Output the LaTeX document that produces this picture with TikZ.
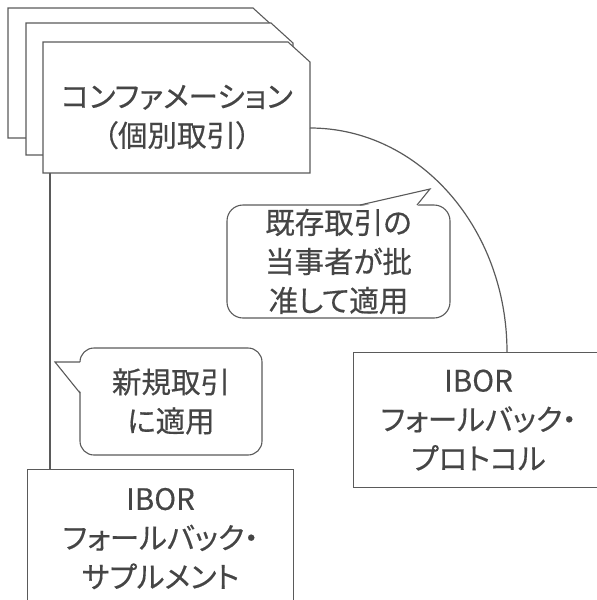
\documentclass[tikz,border=0pt]{standalone}
\usepackage{fontspec}
\setmainfont{Noto Sans CJK JP}[RawFeature={+palt}, FakeBold=0.4]
\definecolor{txt}{HTML}{454545}
\definecolor{linec}{HTML}{5A5A5A}
\begin{document}
\begin{tikzpicture}[x=1pt,y=-1pt,
  ln/.style={draw=linec, line width=1.1pt},
  page/.style={ln, fill=white, line join=miter},
  lbl/.style={text=txt, align=center, font=\fontsize{29.5}{39}\selectfont},
  box/.style={ln, fill=white, rectangle, inner sep=0pt, lbl},
  bubble/.style={box, rounded corners=16pt},
  conn/.style={draw=linec, line width=1.5pt},
  arcline/.style={draw=linec, line width=1.2pt}]
\path[use as bounding box, clip] (0,0) rectangle (597,600);
% stacked pages
\draw[page] (8,8) -- (253,8) -- (275,28) -- (275,138) -- (8,138) -- cycle;
\draw[page] (26,23) -- (271,23) -- (293,43) -- (293,155) -- (26,155) -- cycle;
\draw[page] (43,42) -- (288,42) -- (310,62) -- (310,173) -- (43,173) -- cycle;
\node[lbl] (conf) at (177,117) {コンファメーション\\（個別取引）};
\coordinate (cbot) at (50,173);
\coordinate (cright) at (310,128);
% target boxes
\node[box, minimum width=266pt, minimum height=138pt, anchor=north west] (supp) at (27,469) {IBOR\\フォールバック・\\サプルメント};
\node[box, minimum width=250pt, minimum height=135pt, anchor=north west] (proto) at (353,352) {IBOR\\フォールバック・\\プロトコル};
\coordinate (ptop) at ([xshift=154pt]proto.north west);
% connectors
\draw[conn] (cbot) -- (cbot |- supp.north);
\draw[arcline] (cright) .. controls +(109,0) and +(0,-124) .. (ptop);
% callouts
\node[bubble, minimum width=223pt, minimum height=113pt] (b1) at (338.5,261.5) {既存取引の\\当事者が批\\准して適用};
\fill[white] (360,206.6) -- (430,189) -- (417,206.6) -- cycle;
\draw[ln, line join=miter] (360,205) -- (430,189) -- (417,205);
\node[bubble, rounded corners=14pt, minimum width=182pt, minimum height=107pt] (b2) at (171,401.5) {新規取引\\に適用};
\fill[white] (81.6,362) -- (55,362) -- (81.6,393) -- cycle;
\draw[ln, line join=miter] (80,362) -- (55,362) -- (80,393);
\end{tikzpicture}
\end{document}
